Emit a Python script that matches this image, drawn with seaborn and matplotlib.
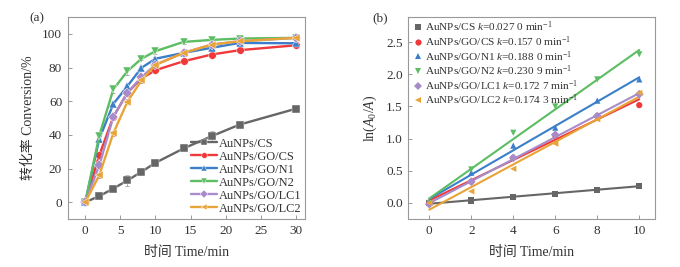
import numpy as np
import pandas as pd
import matplotlib
matplotlib.use("Agg")
import matplotlib.pyplot as plt
import seaborn as sns

# ---------------- data ----------------
series_names = ["AuNPs/CS", "AuNPs/GO/CS", "AuNPs/GO/N1", "AuNPs/GO/N2",
                "AuNPs/GO/LC1", "AuNPs/GO/LC2"]
k_labels = ["0.027 0", "0.157 0", "0.188 0", "0.230 9", "0.172 7", "0.174 3"]

time_a = [0, 2, 4, 6, 8, 10, 14, 18, 22, 30]
conv_cs = [0, 3.6, 8.1, 12.9, 18.0, 23.4, 31.9, 39.2, 46.1, 55.5]
conv_gocs = [0, 27.9, 50.7, 65.0, 73.5, 78.4, 83.7, 87.7, 90.3, 93.2]
conv_n1 = [0, 37.6, 58.4, 68.9, 79.8, 85.2, 88.7, 91.7, 94.6, 94.4]
conv_n2 = [0, 39.6, 67.0, 77.8, 85.2, 89.7, 95.2, 96.4, 97.2, 97.6]
conv_lc1 = [0, 22.0, 50.7, 65.0, 74.2, 81.6, 88.7, 93.6, 95.6, 97.6]
conv_lc2 = [0, 16.0, 41.0, 59.6, 72.3, 81.6, 88.7, 93.6, 95.6, 97.6]
err_cs = [0.5, 1.0, 2.0, 3.0, 1.0, 1.0, 1.0, 3.0, 1.5, 2.0]
err_gocs = [0.5, 1.0, 1.0, 1.0, 1.0, 1.0, 1.0, 1.0, 1.0, 1.0]
err_n1 = [0.5, 1.5, 1.5, 1.5, 1.0, 1.0, 1.0, 1.0, 1.0, 1.0]
err_n2 = [0.5, 1.5, 2.0, 2.0, 1.0, 1.5, 1.0, 1.0, 1.0, 1.0]
err_lc1 = [0.5, 2.0, 1.5, 2.0, 1.0, 1.0, 2.0, 1.0, 1.0, 1.0]
err_lc2 = [0.5, 1.5, 1.5, 1.5, 1.5, 1.0, 2.0, 1.0, 1.0, 1.0]

time_b = [0, 2, 4, 6, 8, 10]
ln_cs = [0.0, 0.036, 0.087, 0.144, 0.206, 0.268]
ln_gocs = [0.0, 0.33, 0.70, 1.05, 1.35, 1.52]
ln_n1 = [0.0, 0.47, 0.89, 1.17, 1.59, 1.92]
ln_n2 = [0.0, 0.52, 1.09, 1.50, 1.92, 2.31]
ln_lc1 = [-0.02, 0.33, 0.70, 1.06, 1.35, 1.69]
ln_lc2 = [0.0, 0.18, 0.53, 0.92, 1.30, 1.71]

conv_all = [conv_cs, conv_gocs, conv_n1, conv_n2, conv_lc1, conv_lc2]
err_all = [err_cs, err_gocs, err_n1, err_n2, err_lc1, err_lc2]
ln_all = [ln_cs, ln_gocs, ln_n1, ln_n2, ln_lc1, ln_lc2]

colors = ["#666666", "#f0393b", "#3c7fc9", "#5cbd62", "#a88cc9", "#e8a437"]
markers = ["s", "o", "^", "v", "D", "<"]

# ---------------- style ----------------
sns.set_theme(style="white")
plt.rcParams["font.family"] = ["Liberation Serif", "Noto Sans CJK SC", "DejaVu Sans"]
plt.rcParams["mathtext.fontset"] = "custom"
plt.rcParams["mathtext.rm"] = "Liberation Serif"
plt.rcParams["mathtext.it"] = "Liberation Serif:italic"
plt.rcParams["axes.unicode_minus"] = True

fig = plt.figure(figsize=(6.8, 2.67), dpi=100)
ax1 = fig.add_axes([67.7 / 680, 48 / 267, (305 - 67.7) / 680, 202 / 267])
ax2 = fig.add_axes([408.3 / 680, 48 / 267, (655 - 408.3) / 680, 202 / 267])

txt_c = "#333333"
spine_c = "#999999"
for ax in (ax1, ax2):
    for s in ax.spines.values():
        s.set_color(spine_c)
        s.set_linewidth(0.8)
    ax.tick_params(direction="in", length=3, width=0.7, color=spine_c,
                   labelsize=9.5, labelcolor=txt_c, pad=4,
                   left=True, bottom=True)

# ---------------- panel (a) ----------------
rows = []
for name, vals, errs in zip(series_names, conv_all, err_all):
    for t, v, e in zip(time_a, vals, errs):
        rows.append({"time": t, "conv": v, "err": e, "series": name})
df_a = pd.DataFrame(rows)

for name in series_names:
    d = df_a[df_a["series"] == name]
    ax1.errorbar(d["time"], d["conv"], yerr=d["err"], fmt="none",
                 ecolor="#aaaaaa", elinewidth=0.7, capsize=1.5, capthick=0.7,
                 zorder=1)
sns.lineplot(data=df_a, x="time", y="conv", hue="series", style="series",
             hue_order=series_names, style_order=series_names,
             palette=colors, markers=markers, dashes=False, markersize=5.5,
             markeredgewidth=0.3, linewidth=1.7, ax=ax1, zorder=2)

ax1.set_xlim(-2.5, 31.3)
ax1.set_ylim(-10, 110)
ax1.set_xticks([0, 5, 10, 15, 20, 25, 30])
ax1.set_yticks([0, 20, 40, 60, 80, 100])
ax1.set_xlabel("时间 Time/min", fontsize=10, color=txt_c, labelpad=7)
ax1.set_ylabel("转化率 Conversion/%", fontsize=10, color=txt_c, labelpad=5)
leg1 = ax1.legend(loc="lower right", bbox_to_anchor=(1.015, -0.015), frameon=False,
                  fontsize=8.9, handlelength=2.1, handletextpad=0.15,
                  labelspacing=0.08, borderaxespad=0.2, markerscale=0.75)
for txt in leg1.get_texts():
    txt.set_color(txt_c)
fig.text(29 / 680, 1 - 18 / 267, "(a)", fontsize=9.5, va="center", color=txt_c)

# ---------------- panel (b) ----------------
rows = []
for name, vals in zip(series_names, ln_all):
    for t, v in zip(time_b, vals):
        rows.append({"time": t, "lnA": v, "series": name})
df_b = pd.DataFrame(rows)

labels_b = [f"{n} $\\mathit{{k}}$=" + f"{k} min$^{{-1}}$"
            for n, k in zip(series_names, k_labels)]
xfit = np.array([0.0, 10.0])
for name, c in zip(series_names, colors):
    d = df_b[df_b["series"] == name]
    p = np.polyfit(d["time"], d["lnA"], 1)
    ax2.plot(xfit, np.polyval(p, xfit), color=c, linewidth=1.5, zorder=1)

sns.scatterplot(data=df_b, x="time", y="lnA", hue="series", style="series",
                hue_order=series_names, style_order=series_names,
                palette=colors, markers=markers, s=20, linewidth=0,
                ax=ax2, zorder=2)
ax2.set_xlim(-1, 10.75)
ax2.set_ylim(-0.25, 2.89)
ax2.set_xticks([0, 2, 4, 6, 8, 10])
ax2.set_yticks([0.0, 0.5, 1.0, 1.5, 2.0, 2.5])
ax2.yaxis.set_major_formatter(matplotlib.ticker.FormatStrFormatter("%.1f"))
ax2.set_xlabel("时间 Time/min", fontsize=10, color=txt_c, labelpad=7)
ax2.set_ylabel("ln($\\mathit{A}_0$/$\\mathit{A}$)", fontsize=10,
               color=txt_c, labelpad=5)
handles, _ = ax2.get_legend_handles_labels()
leg2 = ax2.legend(handles, labels_b, loc="upper left", frameon=False,
                  fontsize=8.1, handlelength=0.6, handletextpad=0.3,
                  labelspacing=0.0, borderaxespad=0.2,
                  bbox_to_anchor=(0.0, 1.02))
for txt in leg2.get_texts():
    txt.set_color(txt_c)
fig.text(372 / 680, 1 - 18 / 267, "(b)", fontsize=9.5, va="center", color=txt_c)

fig.savefig("out.png", dpi=100, facecolor="white")
